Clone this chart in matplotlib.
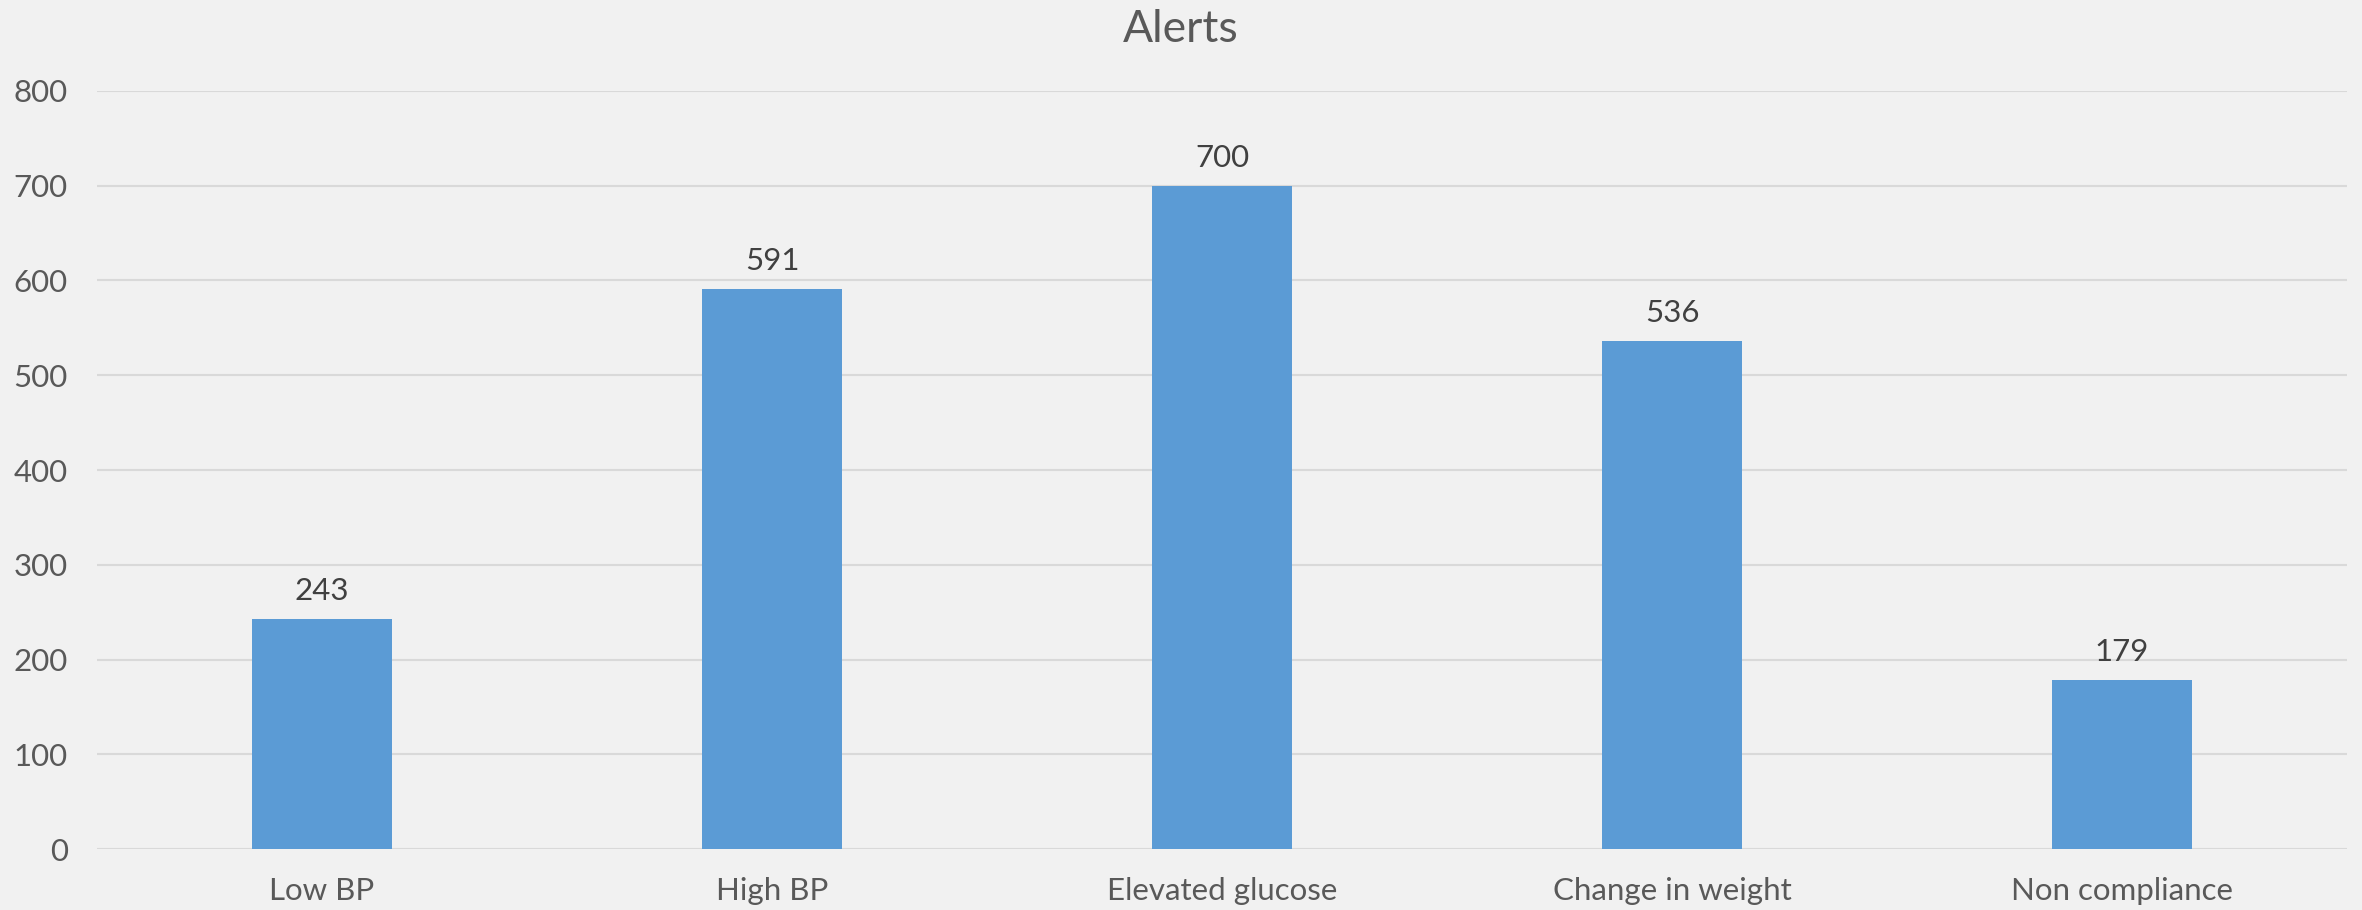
import matplotlib
matplotlib.use("Agg")
import matplotlib.pyplot as plt

categories = ["Low BP", "High BP", "Elevated glucose", "Change in weight", "Non compliance"]
values = [243, 591, 700, 536, 179]
yticks = [0, 100, 200, 300, 400, 500, 600, 700, 800]
title = "Alerts"

plt.rcParams['font.family'] = ['Lato', 'DejaVu Sans']
bg = "#F1F1F1"
fig = plt.figure(figsize=(23.62, 9.10), dpi=100, facecolor=bg)
ax = fig.add_axes([97/2362, 1 - 849.3/910, (2347-97)/2362, (849.3-90.7)/910])
ax.set_facecolor(bg)

x = list(range(len(categories)))
bars = ax.bar(x, values, width=0.313, color="#5B9BD5", zorder=3)
ax.set_xlim(-0.5, len(categories) - 0.5)
ax.set_ylim(0, 800)
ax.set_yticks(yticks)
ax.set_yticklabels([str(t) for t in yticks])
ax.set_xticks(x)
ax.set_xticklabels(categories)
ax.grid(axis='y', color="#D9D9D9", linewidth=1.5, zorder=0)
for s in ax.spines.values():
    s.set_visible(False)
ax.tick_params(axis='both', length=0, labelsize=22.5, colors="#595959")
ax.tick_params(axis='y', pad=21)
ax.tick_params(axis='x', pad=20)

for xi, v in zip(x, values):
    ax.annotate(str(v), (xi, v), xytext=(0, 10), textcoords='offset points',
                ha='center', va='bottom', fontsize=22.5, color="#404040")

fig.text(0.5, 1 - 30/910, title, ha='center', va='center', fontsize=32, color="#595959")

fig.savefig("out.png", dpi=100, facecolor=bg)
